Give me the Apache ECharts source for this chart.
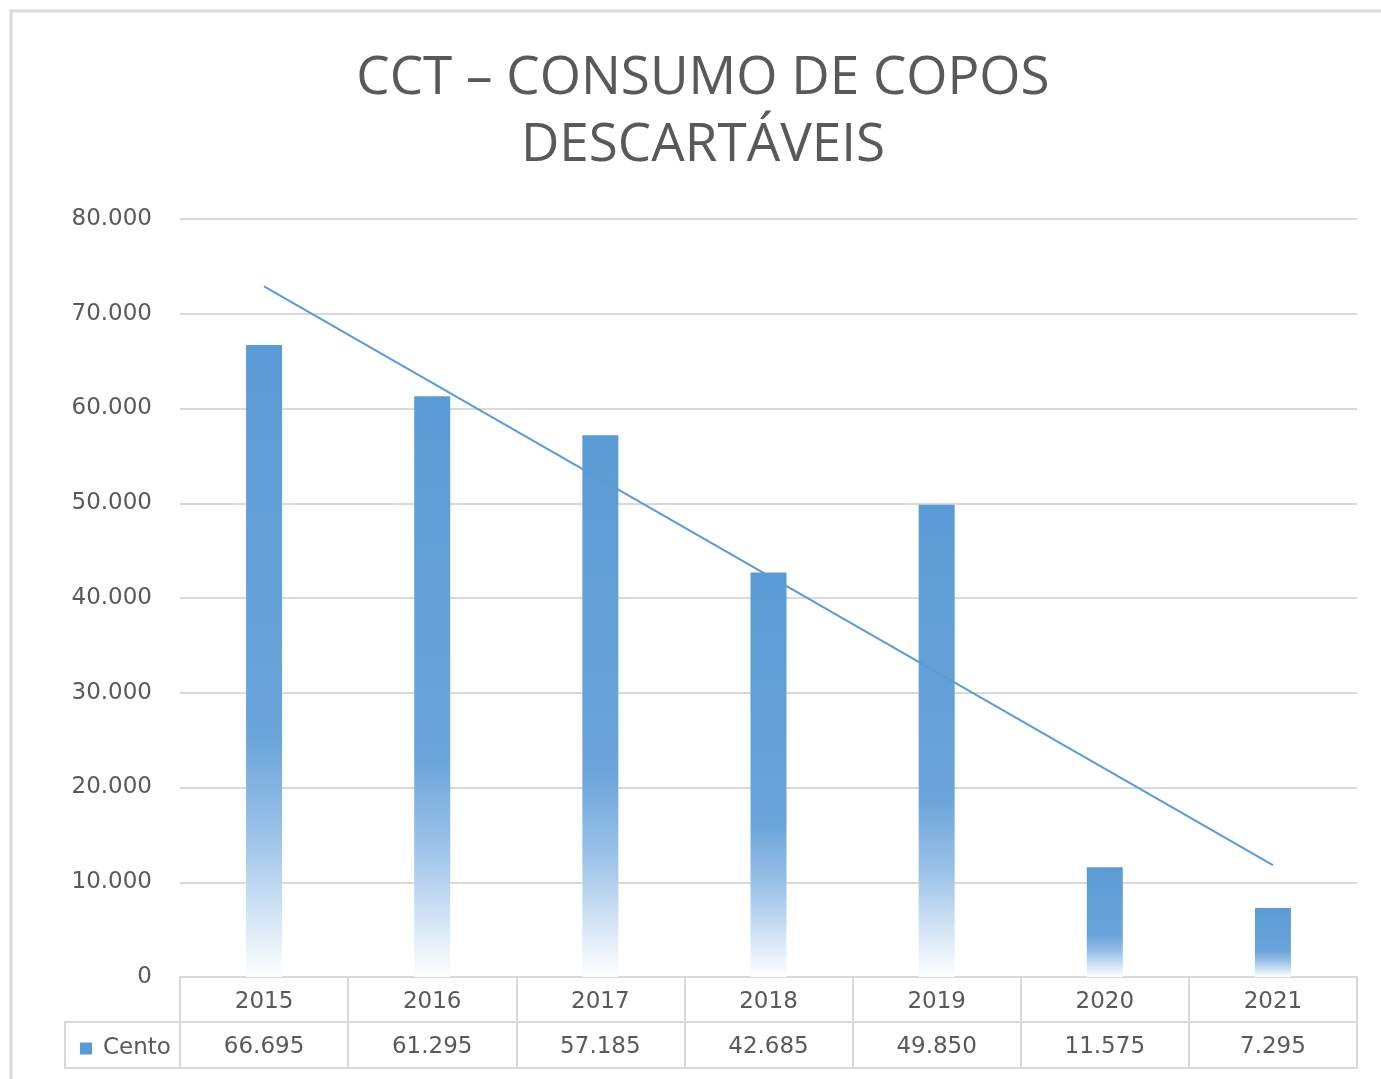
<!DOCTYPE html>
<html>
<head>
<meta charset="utf-8">
<script src="https://cdn.jsdelivr.net/npm/echarts@6/dist/echarts.min.js"></script>
<style>
  html, body { margin: 0; padding: 0; background: #fff; }
  #chart { width: 1381px; height: 1079px; }
</style>
</head>
<body>
<div id="chart"></div>
<script>
const years = ['2015', '2016', '2017', '2018', '2019', '2020', '2021'];
const cento = [66695, 61295, 57185, 42685, 49850, 11575, 7295];
// linha de tendência: extremos
const trendYears = ['2015', '2021'];
const trendValues = [72900, 11800];
const yTicks = [0, 10000, 20000, 30000, 40000, 50000, 60000, 70000, 80000];

const chart = echarts.init(document.getElementById('chart'));

const gray = '#595959';
const lineGray = '#d9d9d9';
const blue = '#5b9bd5';
const font = 'DejaVu Sans';

// 80000 -> "80.000"
function fmt(v) {
    return String(v).replace(/\B(?=(\d{3})+(?!\d))/g, '.');
}

chart.setOption({
    backgroundColor: '#fff',
    title: {
        text: 'CCT – CONSUMO DE COPOS\nDESCARTÁVEIS',
        left: 698,
        textAlign: 'center',
        top: 40,
        textStyle: { fontFamily: 'Open Sans', fontWeight: 'normal', fontSize: 53, lineHeight: 67, color: gray }
    },
    legend: {
        data: [{ name: 'Cento', itemStyle: { color: blue } }],
        left: 75, top: 1032,
        icon: 'rect', itemWidth: 12, itemHeight: 12,
        textStyle: { fontFamily: font, fontSize: 23, color: gray, padding: [0, 0, 0, 6] }
    },
    grid: { left: 180, right: 24, top: 219, bottom: 102 },
    xAxis: [
        {
            type: 'category', data: years, position: 'bottom',
            axisLine: { show: true, lineStyle: { color: lineGray, width: 2 } },
            axisTick: { show: true, length: 91, lineStyle: { color: lineGray, width: 2 } },
            axisLabel: { fontFamily: font, fontSize: 23, color: gray, margin: 14 }
        },
        {
            type: 'category', data: years, position: 'bottom', offset: 45,
            axisLine: { show: true, lineStyle: { color: lineGray, width: 2 } },
            axisTick: { show: false },
            axisLabel: { fontFamily: font, fontSize: 23, color: gray, margin: 14,
                formatter: (v, i) => fmt(cento[i]) }
        },
        {
            type: 'category', data: years, position: 'bottom', offset: 91,
            axisLine: { show: true, lineStyle: { color: lineGray, width: 2 } },
            axisTick: { show: false },
            axisLabel: { show: false }
        }
    ],
    yAxis: {
        type: 'value', min: yTicks[0], max: yTicks[yTicks.length - 1], interval: 10000,
        axisLine: { show: false }, axisTick: { show: false },
        axisLabel: { fontFamily: font, fontSize: 23, color: gray, margin: 28, formatter: fmt },
        splitLine: { lineStyle: { color: lineGray, width: 2 } }
    },
    series: [
        {
            name: 'Cento', type: 'bar', data: cento, barWidth: 36, xAxisIndex: 0,
            itemStyle: {
                color: new echarts.graphic.LinearGradient(0, 0, 0, 1, [
                    { offset: 0, color: '#5b9bd5' },
                    { offset: 0.62, color: '#6aa4da' },
                    { offset: 0.78, color: '#9dc3e8' },
                    { offset: 0.9, color: '#d3e4f5' },
                    { offset: 1, color: '#ffffff' }
                ])
            }
        },
        {
            name: 'Linear (Cento)', type: 'line', xAxisIndex: 0, z: 5,
            data: trendYears.map((y, i) => [y, trendValues[i]]),
            showSymbol: false, symbol: 'none',
            lineStyle: { color: blue, width: 2 }
        }
    ],
    graphic: [
        { type: 'rect', shape: { x: 11, y: 11, width: 1400, height: 1100 },
          style: { fill: 'none', stroke: lineGray, lineWidth: 3 }, silent: true },
        { type: 'rect', shape: { x: 65, y: 1022, width: 115, height: 46 },
          style: { fill: 'none', stroke: lineGray, lineWidth: 2 }, silent: true }
    ]
});

window.onresize = () => chart.resize();
</script>
</body>
</html>
